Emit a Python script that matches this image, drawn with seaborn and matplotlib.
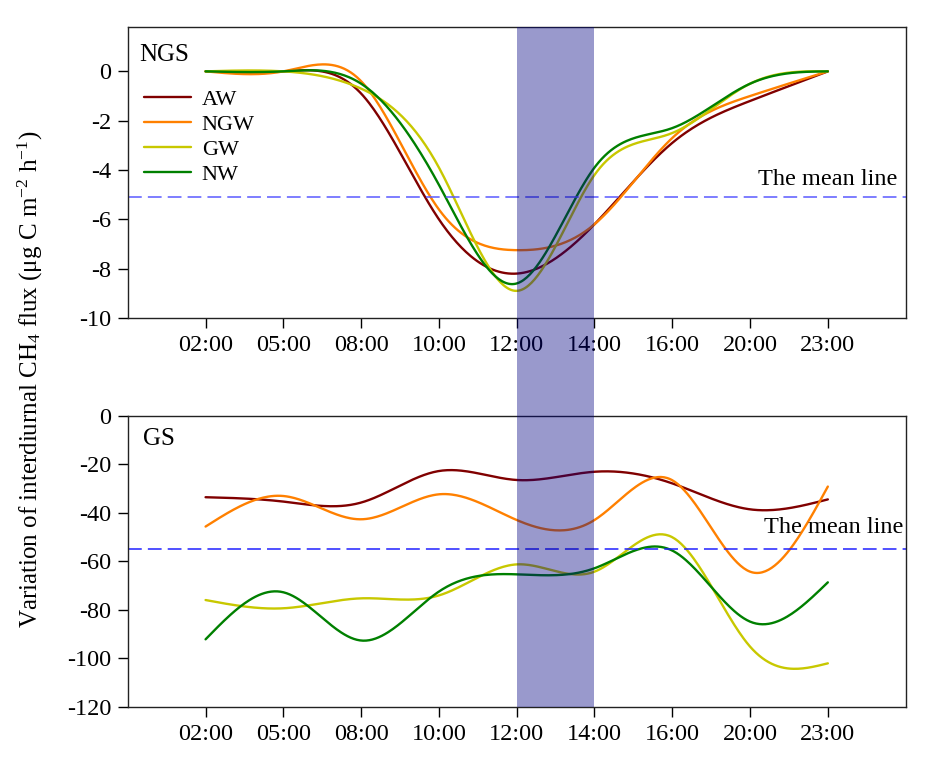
import numpy as np
import pandas as pd
import matplotlib
matplotlib.use("Agg")
import matplotlib.pyplot as plt
import matplotlib.transforms as mtransforms
from matplotlib.patches import Rectangle
import seaborn as sns

# categories (hours) and treatments
hours = ["02:00", "05:00", "08:00", "10:00", "12:00", "14:00", "16:00", "20:00", "23:00"]
series_names = ["AW", "NGW", "GW", "NW"]

# NGS panel values read at each hour
ngs_aw = [0, 0, -0.9, -6.0, -8.2, -6.2, -2.9, -1.2, 0]
ngs_ngw = [0, 0, -0.4, -5.6, -7.25, -6.2, -2.7, -1.0, 0]
ngs_gw = [0, 0, -0.7, -3.9, -8.9, -4.2, -2.5, -0.5, 0]
ngs_nw = [0, 0, -0.5, -4.6, -8.6, -3.9, -2.3, -0.5, 0]

# GS panel values
gs_aw = [-33.5, -35.3, -35.7, -22.7, -26.4, -23.0, -27.8, -38.5, -34.4]
gs_ngw = [-45.6, -33.0, -42.6, -32.3, -42.9, -42.9, -26.5, -64.2, -29.1]
gs_gw = [-75.9, -79.3, -75.2, -74.0, -61.2, -64.2, -50.0, -95.1, -102.0]
gs_nw = [-92.1, -72.7, -92.6, -72.4, -65.3, -62.8, -55.5, -84.8, -68.6]

ngs_mean = -5.1
gs_mean = -55.0

colors = {"AW": "#800000", "NGW": "#ff8000", "GW": "#c8c800", "NW": "#008000"}


def natural_spline(y, n_out=400):
    # smooth curve through the points, like the spline option in the original
    y = np.asarray(y, dtype=float)
    x = np.arange(1, len(y) + 1, dtype=float)
    n = len(x)
    h = np.diff(x)
    A = np.zeros((n, n))
    b = np.zeros(n)
    A[0, 0] = 1
    A[-1, -1] = 1
    for i in range(1, n - 1):
        A[i, i - 1] = h[i - 1]
        A[i, i] = 2 * (h[i - 1] + h[i])
        A[i, i + 1] = h[i]
        b[i] = 6 * ((y[i + 1] - y[i]) / h[i] - (y[i] - y[i - 1]) / h[i - 1])
    M = np.linalg.solve(A, b)
    xs = np.linspace(x[0], x[-1], n_out)
    idx = np.clip(np.searchsorted(x, xs) - 1, 0, n - 2)
    x0, x1 = x[idx], x[idx + 1]
    hh = x1 - x0
    ys = (M[idx] * (x1 - xs) ** 3 / (6 * hh) + M[idx + 1] * (xs - x0) ** 3 / (6 * hh)
          + (y[idx] / hh - M[idx] * hh / 6) * (x1 - xs)
          + (y[idx + 1] / hh - M[idx + 1] * hh / 6) * (xs - x0))
    return xs, ys


def build_frame(values):
    frames = []
    for name, vals in zip(series_names, values):
        xs, ys = natural_spline(vals)
        frames.append(pd.DataFrame({"x": xs, "y": ys, "group": name}))
    return pd.concat(frames, ignore_index=True)


sns.set_theme(style="ticks")
plt.rcParams["font.family"] = ["Liberation Serif", "DejaVu Serif"]
plt.rcParams["mathtext.fontset"] = "custom"
plt.rcParams["mathtext.rm"] = "Liberation Serif"
plt.rcParams["mathtext.it"] = "Liberation Serif:italic"
plt.rcParams["axes.unicode_minus"] = False
plt.rcParams["text.color"] = "black"

fig = plt.figure(figsize=(9.26, 7.62), dpi=100)
ax1 = fig.add_axes([0.138, 0.5827, 0.840, 0.3819])
ax2 = fig.add_axes([0.138, 0.0722, 0.840, 0.3819])

df_top = build_frame([ngs_aw, ngs_ngw, ngs_gw, ngs_nw])
df_bot = build_frame([gs_aw, gs_ngw, gs_gw, gs_nw])

sns.lineplot(data=df_top, x="x", y="y", hue="group", palette=colors, ax=ax1,
             linewidth=1.7, estimator=None, legend=False)
sns.lineplot(data=df_bot, x="x", y="y", hue="group", palette=colors, ax=ax2,
             linewidth=1.7, estimator=None, legend=False)

ax1.axhline(ngs_mean, color="#5a5aff", lw=1.1, dashes=(9, 4))
ax2.axhline(gs_mean, color="#2020ff", lw=1.1, dashes=(9, 4))

ax1.set_ylim(-10, 1.8)
ax1.set_yticks([0, -2, -4, -6, -8, -10])
ax2.set_ylim(-120, 0)
ax2.set_yticks([0, -20, -40, -60, -80, -100, -120])

for ax in (ax1, ax2):
    ax.set_xlim(0, 10)
    ax.set_xticks(range(1, len(hours) + 1))
    ax.set_xticklabels(hours)
    ax.set_xlabel("")
    ax.set_ylabel("")
    ax.tick_params(direction="out", length=7, width=1, labelsize=17.5,
                   colors="black", pad=5)
    for s in ax.spines.values():
        s.set_visible(True)
        s.set_linewidth(1.0)
        s.set_color("#222222")

ax1.text(0.015, 0.905, "NGS", transform=ax1.transAxes, fontsize=18, va="center", ha="left")
ax2.text(0.02, 0.92, "GS", transform=ax2.transAxes, fontsize=18, va="center", ha="left")
ax1.text(9.9, -4.4, "The mean line", fontsize=17.5, ha="right", va="center")
ax2.text(9.97, -46, "The mean line", fontsize=17.5, ha="right", va="center")

handles = [plt.Line2D([], [], color=colors[n], lw=1.7) for n in series_names]
ax1.legend(handles, series_names, loc="upper left", bbox_to_anchor=(-0.005, 0.855),
           frameon=False, fontsize=16, handlelength=2.1, handletextpad=0.5,
           labelspacing=0.2)

fig.text(0.033, 0.502, "Variation of interdiurnal CH$_4$ flux (\u03bcg C m$^{-2}$ h$^{-1}$)",
         rotation=90, fontsize=18, ha="center", va="center")

# shaded 12:00-14:00 band spanning both panels
trans = mtransforms.blended_transform_factory(ax2.transData, fig.transFigure)
band = Rectangle((5, 0.0722), 1, 0.9646 - 0.0722, transform=trans,
                 facecolor="#000080", alpha=0.4, edgecolor="none", zorder=10)
fig.add_artist(band)

fig.savefig("out.png", dpi=100)
